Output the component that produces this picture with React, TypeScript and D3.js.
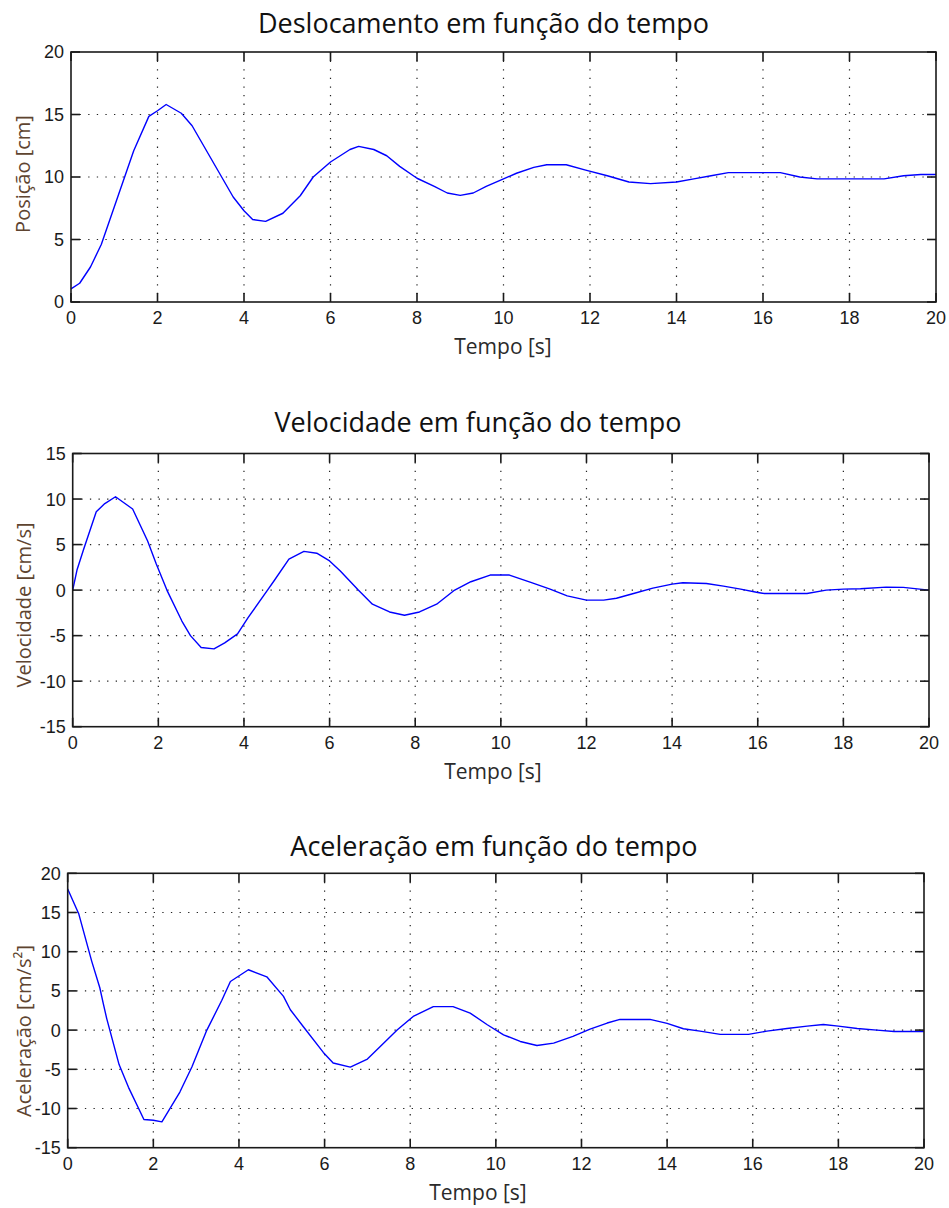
import React from 'react';
import * as d3 from 'd3';

// ---------- data ----------
const xTicks = [0, 2, 4, 6, 8, 10, 12, 14, 16, 18, 20];

const posTicks = [0, 5, 10, 15, 20];
const posT = [0, 0.2, 0.45, 0.7, 0.9, 1.1, 1.25, 1.45, 1.8, 2.0, 2.2, 2.55, 2.8, 3.0, 3.4, 3.75, 4.0, 4.2, 4.5, 4.9, 5.3, 5.6, 6.0, 6.45, 6.65, 7.0, 7.3, 7.6, 8.0, 8.4, 8.7, 9.0, 9.3, 9.6, 10.0, 10.3, 10.7, 11.0, 11.45, 11.9, 12.4, 12.9, 13.4, 14.0, 14.4, 14.8, 15.2, 16.0, 16.4, 16.85, 17.25, 18.0, 18.8, 19.25, 19.65, 20];
const posV = [1.05, 1.5, 2.8, 4.6, 6.6, 8.6, 10.1, 12.1, 14.85, 15.3, 15.8, 15.1, 14.1, 12.9, 10.5, 8.4, 7.3, 6.6, 6.45, 7.1, 8.5, 10.0, 11.2, 12.2, 12.45, 12.2, 11.7, 10.85, 9.9, 9.25, 8.72, 8.53, 8.72, 9.25, 9.85, 10.3, 10.77, 10.98, 10.98, 10.55, 10.1, 9.6, 9.47, 9.6, 9.85, 10.1, 10.35, 10.35, 10.35, 10.0, 9.85, 9.85, 9.85, 10.1, 10.2, 10.2];

const velTicks = [-15, -10, -5, 0, 5, 10, 15];
const velT = [0, 0.1, 0.25, 0.55, 0.75, 1.0, 1.4, 1.75, 1.95, 2.2, 2.55, 2.75, 3.0, 3.3, 3.55, 3.85, 4.1, 4.55, 4.7, 5.05, 5.4, 5.7, 6.0, 6.25, 6.67, 7.0, 7.4, 7.75, 8.1, 8.5, 8.9, 9.3, 9.75, 10.2, 10.7, 11.15, 11.55, 12.0, 12.4, 12.7, 13.1, 13.55, 14.0, 14.25, 14.8, 15.2, 15.6, 16.0, 16.15, 17.15, 17.6, 18.0, 18.4, 19.0, 19.4, 20];
const velV = [0, 2.2, 4.4, 8.6, 9.5, 10.25, 8.9, 5.4, 2.9, 0, -3.4, -5.0, -6.3, -6.45, -5.8, -4.8, -3.0, 0, 1.0, 3.4, 4.25, 4.05, 3.2, 2.1, 0, -1.55, -2.4, -2.76, -2.4, -1.55, -0.07, 0.92, 1.65, 1.65, 0.84, 0.1, -0.63, -1.1, -1.1, -0.89, -0.37, 0.22, 0.66, 0.8, 0.73, 0.44, 0.11, -0.26, -0.37, -0.37, 0, 0.11, 0.15, 0.33, 0.3, 0];

const accTicks = [-15, -10, -5, 0, 5, 10, 15, 20];
const accT = [0, 0.26, 0.56, 0.75, 0.83, 0.91, 1.2, 1.42, 1.78, 2.0, 2.2, 2.62, 2.9, 3.25, 3.6, 3.8, 4.22, 4.65, 5.04, 5.2, 5.5, 5.97, 6.2, 6.6, 7.0, 7.3, 7.7, 8.07, 8.54, 9.0, 9.4, 9.8, 10.18, 10.57, 10.96, 11.35, 11.8, 12.2, 12.6, 12.9, 13.6, 14.0, 14.38, 14.77, 15.24, 15.9, 16.33, 16.8, 17.27, 17.65, 18.0, 18.44, 18.9, 19.3, 20];
const accV = [18.0, 14.8, 8.8, 5.4, 3.4, 1.5, -4.4, -7.3, -11.4, -11.5, -11.7, -7.9, -4.7, 0, 3.8, 6.2, 7.7, 6.8, 4.3, 2.6, 0.46, -2.85, -4.2, -4.72, -3.7, -2.1, 0.04, 1.74, 3.0, 3.0, 2.17, 0.68, -0.6, -1.45, -1.96, -1.66, -0.81, 0.13, 0.9, 1.36, 1.36, 0.85, 0.17, -0.13, -0.55, -0.55, -0.13, 0.21, 0.51, 0.72, 0.51, 0.21, 0, -0.17, -0.17];

const titles = ['Deslocamento em função do tempo', 'Velocidade em função do tempo', 'Aceleração em função do tempo'];
const yLabels = ['Posição [cm]', 'Velocidade [cm/s]', 'Aceleração [cm/s²]'];
const xLabel = 'Tempo [s]';

// ---------- layout ----------
const panels = [
  { title: titles[0], ylabel: yLabels[0], t: posT, v: posV, yDomain: [0, 20], yTicks: posTicks,
    box: { l: 71, t: 52, r: 936, b: 302 }, titleX: 483.5, titleY: 33, xLabelX: 503, yLabelX: 30, yLabelY: 174 },
  { title: titles[1], ylabel: yLabels[1], t: velT, v: velV, yDomain: [-15, 15], yTicks: velTicks,
    box: { l: 72.7, t: 453.5, r: 929, b: 726.7 }, titleX: 478, titleY: 432, xLabelX: 493, yLabelX: 31, yLabelY: 605 },
  { title: titles[2], ylabel: yLabels[2], t: accT, v: accV, yDomain: [-15, 20], yTicks: accTicks,
    box: { l: 67.7, t: 873.3, r: 924, b: 1147.7 }, titleX: 494, titleY: 856, xLabelX: 478, yLabelX: 31, yLabelY: 1031 },
];

const TICK_FONT = '"Liberation Sans", Arial, sans-serif';
const TEXT_FONT = '"Open Sans", "Noto Sans", sans-serif';
const GRID_DASH = '1.3 7.3';
const TICK_LEN = 9;

function Panel({ p }: { p: any }) {
  const { l, t, r, b } = p.box;
  const x = d3.scaleLinear().domain([0, 20]).range([l, r]);
  const y = d3.scaleLinear().domain(p.yDomain).range([b, t]);
  const line = d3.line<number>().x((_, i) => x(p.t[i])).y((d) => y(d));
  const yMin = p.yDomain[0];
  const yMax = p.yDomain[1];
  return (
    <g>
      {/* grid */}
      {xTicks.filter((v) => v !== 0 && v !== 20).map((v) => (
        <line key={'gx' + v} x1={x(v)} x2={x(v)} y1={t} y2={b} stroke="#222" strokeWidth={1.2} strokeDasharray={GRID_DASH} />
      ))}
      {p.yTicks.filter((v: number) => v !== yMin && v !== yMax).map((v: number) => (
        <line key={'gy' + v} x1={l} x2={r} y1={y(v)} y2={y(v)} stroke="#222" strokeWidth={1.2} strokeDasharray={GRID_DASH} />
      ))}
      {/* data */}
      <path d={line(p.v) || ''} fill="none" stroke="#0000ff" strokeWidth={1.4} strokeLinejoin="round" />
      {/* frame */}
      <rect x={l} y={t} width={r - l} height={b - t} fill="none" stroke="#1a1a1a" strokeWidth={1.6} />
      {/* tick marks */}
      {xTicks.map((v) => (
        <g key={'tx' + v}>
          <line x1={x(v)} x2={x(v)} y1={b} y2={b - TICK_LEN} stroke="#1a1a1a" strokeWidth={1.6} />
          <line x1={x(v)} x2={x(v)} y1={t} y2={t + TICK_LEN} stroke="#1a1a1a" strokeWidth={1.6} />
        </g>
      ))}
      {p.yTicks.map((v: number) => (
        <g key={'ty' + v}>
          <line x1={l} x2={l + TICK_LEN} y1={y(v)} y2={y(v)} stroke="#1a1a1a" strokeWidth={1.6} />
          <line x1={r} x2={r - TICK_LEN} y1={y(v)} y2={y(v)} stroke="#1a1a1a" strokeWidth={1.6} />
        </g>
      ))}
      {/* tick labels */}
      {xTicks.map((v) => (
        <text key={'lx' + v} x={x(v)} y={b + 22} textAnchor="middle" fontFamily={TICK_FONT} fontSize={18} fill="#1a1a1a">{v}</text>
      ))}
      {p.yTicks.map((v: number) => (
        <text key={'ly' + v} x={l - 7} y={y(v)} dy="0.36em" textAnchor="end" fontFamily={TICK_FONT} fontSize={18} fill="#1a1a1a">{v}</text>
      ))}
      {/* titles & labels */}
      <text x={p.titleX} y={p.titleY} textAnchor="middle" fontFamily={TEXT_FONT} fontSize={27} fill="#111">{p.title}</text>
      <text x={p.xLabelX} y={b + 52} textAnchor="middle" fontFamily={TEXT_FONT} fontSize={21} fill="#2a2a2a">{xLabel}</text>
      <text transform={`translate(${p.yLabelX},${p.yLabelY}) rotate(-90)`} textAnchor="middle" fontFamily={TEXT_FONT} fontSize={20} fill="#5e4430">{p.ylabel}</text>
    </g>
  );
}

export default function App() {
  return (
    <svg width={949} height={1208} style={{ position: 'absolute', left: 0, top: 0, background: '#fff' }}>
      <rect x={0} y={0} width={949} height={1208} fill="#fff" />
      {panels.map((p, i) => <Panel key={i} p={p} />)}
    </svg>
  );
}
